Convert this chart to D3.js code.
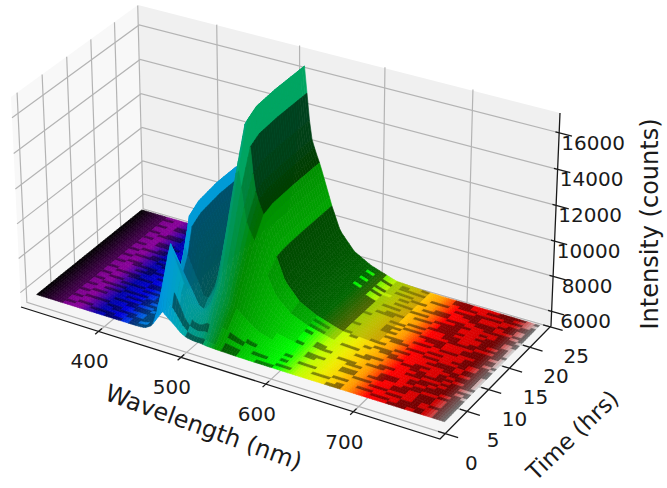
<!DOCTYPE html>
<html>
<head>
<meta charset="utf-8">
<script src="https://cdn.jsdelivr.net/npm/d3@7"></script>
<style>
  html, body { margin: 0; padding: 0; background: #fff; }
  text { font-family: "DejaVu Sans", sans-serif; fill: #1a1a1a; }
</style>
</head>
<body>
<div id="chart"></div>
<script>
// tick labels
const wavelengthTicks = [400, 500, 600, 700];
const timeTicks = [0, 5, 10, 15, 20, 25];
const intensityTicks = [6000, 8000, 10000, 12000, 14000, 16000];

// wavelengths (nm) and times (hrs) the spectra were read at
const wavelengths = [316, 400, 440, 450, 458, 465, 472, 476, 486, 493, 500, 509, 518, 521, 524, 528, 533, 539, 546, 553, 563, 580, 600, 630, 670, 795];
const times = [0, 0.7, 1.4, 2, 4, 5, 6, 7, 8, 10, 12, 16, 22.5];

// the flat detector floor sits this far under the 6000 the spectra start from
const floorOffset = 200;

// one spectrum per time (counts)
const spectrum00 = [6000, 6000, 6000, 6030, 6260, 6780, 7300, 7110, 6720, 6400, 6210, 6140, 6130, 6100, 6080, 6070, 6060, 6050, 6040, 6030, 6020, 6010, 6010, 6000, 6000, 6000];
const spectrum01 = [6000, 6000, 6000, 6050, 6500, 7500, 8500, 8130, 7380, 6770, 6420, 6310, 6350, 6290, 6250, 6200, 6180, 6160, 6130, 6100, 6060, 6030, 6020, 6010, 6000, 6000];
const spectrum02 = [6000, 6000, 6000, 6080, 6840, 8520, 10200, 9580, 8330, 7300, 6750, 6650, 6880, 6770, 6660, 6530, 6470, 6420, 6340, 6260, 6160, 6090, 6050, 6010, 6000, 6000];
const spectrum03 = [6000, 6000, 6000, 6100, 6900, 8800, 10700, 10000, 8780, 7570, 6950, 6940, 7400, 7250, 7070, 6860, 6770, 6680, 6550, 6420, 6260, 6140, 6080, 6020, 6010, 6000];
const spectrum04 = [6000, 6000, 6000, 6060, 6600, 7800, 9000, 8580, 7710, 7040, 6870, 7470, 8860, 8690, 8300, 7850, 7650, 7460, 7180, 6900, 6560, 6310, 6170, 6040, 6010, 6000];
const spectrum05 = [6000, 6000, 6000, 6080, 6760, 8280, 9800, 9270, 8180, 7360, 7300, 8270, 10400, 10130, 9530, 8840, 8540, 8240, 7810, 7380, 6860, 6470, 6260, 6070, 6020, 6000];
const spectrum06 = [6000, 6000, 6000, 6100, 7080, 9240, 11400, 10640, 9080, 7880, 7550, 8970, 11730, 11380, 10590, 9700, 9300, 8910, 8350, 7790, 7120, 6620, 6340, 6080, 6020, 6000];
const spectrum07 = [6000, 6000, 6000, 6110, 7120, 9360, 11600, 10840, 9180, 8000, 7900, 9630, 13140, 12720, 11740, 10620, 10130, 9640, 8940, 8240, 7400, 6770, 6420, 6110, 6030, 6000];
const spectrum08 = [6000, 6000, 6000, 6110, 7160, 9480, 11800, 11000, 9340, 8140, 8150, 10200, 14430, 13970, 12810, 11480, 10900, 10320, 9490, 8660, 7660, 6910, 6500, 6130, 6030, 6000];
const spectrum10 = [6000, 6000, 6000, 6120, 7180, 9540, 11900, 11100, 9450, 8280, 8450, 11090, 16900, 16350, 14450, 12800, 12080, 11360, 10330, 9300, 8060, 7130, 6620, 6160, 6040, 6000];
const spectrum12 = [6000, 6000, 6000, 6120, 7200, 9600, 12000, 11200, 9500, 8330, 8520, 11260, 17250, 16700, 14770, 13060, 12310, 11560, 10490, 9420, 8140, 7180, 6640, 6160, 6040, 6000];
const spectrum16 = [6000, 6000, 6000, 6120, 7200, 9600, 12000, 11210, 9520, 8340, 8520, 11280, 17350, 16800, 14860, 13130, 12370, 11620, 10540, 9460, 8160, 7190, 6650, 6160, 6040, 6000];
const spectrum22 = [6000, 6000, 6000, 6110, 7060, 9180, 11300, 10610, 9130, 8130, 8420, 11230, 17350, 16800, 14860, 13130, 12370, 11620, 10540, 9460, 8160, 7190, 6650, 6160, 6040, 6000];
const spectra = [spectrum00, spectrum01, spectrum02, spectrum03, spectrum04, spectrum05, spectrum06, spectrum07, spectrum08, spectrum10, spectrum12, spectrum16, spectrum22];

// brightness of each spectrum-to-spectrum strip, one digit per wavelength gap (9 = fully lit)
const stripShades = [
  "9999999999999999999999999",
  "9999999988888888999999999",
  "9999999988888888999999999",
  "9999999888888888899999999",
  "9999998555778888888889999",
  "9999999444588888888888999",
  "9999999444588888888888999",
  "9999999444588888888888999",
  "9999999444589976688776799",
  "9999999444599933388333379",
  "9999999444599933388333379",
  "9999999444599933388333379"
];

// noisy floor, rows back (22 hrs) to front (0 hrs), 10 nm per char: # dark cell, + bright cell
const floorCells = [
  "###...##..###.................+...#...##...###.#",
  "####..###...##................+.#.....##..###...#",
  "###.....##.###..............+...###....##...##.#",
  "###..##....###................+.....##...###..##",
  "####.###...#..................+.##.....###...####",
  "###....##.####..............+.....##....##..##.#",
  "###.....###..#................++.#...##..###.#.##",
  "####.##....###................#.....###...##..##",
  "###.###...##................+.+..##....##..###.#",
  "###......#####..............#.+....##...##...##",
  "####....###..#..................##....###..#.###",
  "###..##....###..............#.......##.##...##.#",
  "###..###..##..................#..##....###.###.",
  "####.....####...................##....###...###",
  "###...##...###..............#.......##..##..#.#",
  "###.###...##.#................##..##....##.####",
  "####....###.........................##...###..##",
  "###...##..####..............##....##..###...###",
  "###.###....###....................#....##..###..#",
  "####...###.#................#.....##....#..####",
  "###.....##.###................##......##.##..##",
  "###.##.....###..............##.....##.......##.#",
  "####.###..##........................##..##..###",
  "###....###.###..............###.......##...##.##",
  "###...##...###................##..##....##..#.##",
  "####.....####...................#....##...##.###",
  "###.###...##.#..............##.....##....###.##",
  "###...###....#....................#.##.....##.#",
  "####.....##.##..............##.......##.##..###",
  "###.##...#####..................##.....##..#.##",
  "###...###...##..............#......##...##.##.#",
  "####.....###......................##.....###.###",
  "###.###....###................#......##.##..##.",
  "###....###.#.#................##....##....##.###",
  "####.##...####..............#....##......##.##.#",
  "###.....###..#....................##..##.#.####",
  "###.##....####................##......##..###.##",
  "####...###..##................#...##.##..##..###",
  "###......###.#....................##....##.##.##",
  "###.###...####..............#.......##..##.##.##",
  "####...##...##..........#.....##......##...##.###",
  "###.....###.##........##....#.....##....##.#.###",
  "###.##....####....##.....##.....##...##...##..##",
  "####..###..#.#..##....##....##.....#...##.###.##",
  "###.....##.###....##..##..##......##.....##.#.###"
];

// nipy_spectral stops and the wavelength each one falls on
const colourStops = ["#000000", "#770088", "#880099", "#0000aa", "#0000dd", "#0077dd", "#0099dd", "#00aaaa", "#00aa88", "#009900", "#00bb00", "#00dd00", "#00ff00", "#bbff00", "#eeee00", "#ffcc00", "#ff9900", "#ff0000", "#dd0000", "#cc0000", "#cccccc"];
const colourWavelengths = [316, 345, 368, 393, 415, 442, 470, 495, 516, 535, 555, 580, 605, 628, 650, 668, 686, 708, 738, 772, 795];

const width = 667, height = 488;

const svg = d3.select("#chart").append("svg")
  .attr("width", width)
  .attr("height", height)
  .style("display", "block");

// corners of the axes box on the page
const A = [21, 307], B = [440, 439], C = [551, 326], D = [144, 208], E = [138, 5], F = [11, 97], G = [560, 113];

function makeProjection() {
  const dx1 = B[0] - C[0], dx2 = D[0] - C[0], sx = A[0] - B[0] + C[0] - D[0];
  const dy1 = B[1] - C[1], dy2 = D[1] - C[1], sy = A[1] - B[1] + C[1] - D[1];
  const det = dx1 * dy2 - dx2 * dy1;
  const g = (sx * dy2 - dx2 * sy) / det, h = (dx1 * sy - sx * dy1) / det;
  const a = B[0] - A[0] + g * B[0], b = D[0] - A[0] + h * D[0], c = A[0];
  const d = B[1] - A[1] + g * B[1], e = D[1] - A[1] + h * D[1], f = A[1];
  const r1 = (G[0] * (g + h) - a - b) / (F[0] - G[0]);
  const p = F[0] * r1 - c, q = F[1] * r1 - f, r = r1 - 1;
  return (x, y, z) => {
    const w = g * x + h * y + r * z + 1;
    return [(a * x + b * y + p * z + c) / w, (d * x + e * y + q * z + f) / w];
  };
}
const project = makeProjection();

const x = d3.scaleLinear().domain([303, 796]).range([0, 1]);
const y = d3.scaleLinear().domain([-1.2, 25.2]).range([0, 1]);
const z = d3.scaleLinear().domain([5150, 17150]).range([0, 1]);
const colour = d3.scaleLinear().domain(colourWavelengths).range(colourStops);

const line = d3.line();
const pt = (l, t, v) => project(x(l), y(t), z(v));

// panes
const panes = svg.append("g");
panes.append("path").attr("d", line([A, D, E, F]) + "Z").attr("fill", "#f8f8f8");
panes.append("path").attr("d", line([D, C, G, E]) + "Z").attr("fill", "#f0f0f0");
panes.append("path").attr("d", line([A, B, C, D]) + "Z").attr("fill", "#f5f5f5");

// grid
const grid = svg.append("g").attr("fill", "none").attr("stroke", "#b4b4b4").attr("stroke-width", 1.2);
const [lMin, lMax] = x.domain(), [tMin, tMax] = y.domain(), [zMin, zMax] = z.domain();
wavelengthTicks.forEach(l => grid.append("path").attr("d", line([pt(l, tMin, zMin), pt(l, tMax, zMin), pt(l, tMax, zMax)])));
timeTicks.forEach(t => grid.append("path").attr("d", line([pt(lMax, t, zMin), pt(lMin, t, zMin), pt(lMin, t, zMax)])));
intensityTicks.forEach(v => grid.append("path").attr("d", line([pt(lMin, tMin, v), pt(lMin, tMax, v), pt(lMax, tMax, v)])));

// surface
function surfaceAt(l, t) {
  const i = Math.min(d3.bisectRight(wavelengths, l) - 1, wavelengths.length - 2);
  const j = Math.min(d3.bisectRight(times, t) - 1, times.length - 2);
  const u = (l - wavelengths[i]) / (wavelengths[i + 1] - wavelengths[i]);
  const w = (t - times[j]) / (times[j + 1] - times[j]);
  const top = d3.interpolateNumber(spectra[j + 1][i], spectra[j + 1][i + 1])(u);
  const bottom = d3.interpolateNumber(spectra[j][i], spectra[j][i + 1])(u);
  return bottom + (top - bottom) * w - floorOffset;
}

function cellShade(l, t) {
  const i = Math.min(d3.bisectRight(wavelengths, l) - 1, wavelengths.length - 2);
  const j = Math.min(d3.bisectRight(times, t) - 1, times.length - 2);
  const lit = (+stripShades[j][i] + 1) / 10;
  const row = floorCells.length - 1 - Math.floor(t / 0.5);
  const cell = floorCells[Math.max(row, 0)][Math.max(Math.floor((l - 320) / 10), 0)];
  if (cell === "#") return Math.min(lit, 0.55);
  if (cell === "+") return 0.95;
  return lit;
}

// painter's order: low wavelengths first, back to front in time
const lambdaMesh = d3.range(316, 795, 3);
const timeMesh = d3.range(22, -0.5, -0.5);
const cells = [];
lambdaMesh.forEach(l => timeMesh.forEach(t => cells.push({ l, t })));

svg.append("g").selectAll("path")
  .data(cells)
  .join("path")
  .attr("d", d => {
    const l2 = Math.min(d.l + 3, 795), t2 = d.t + 0.5;
    return line([
      pt(d.l, d.t, surfaceAt(d.l, d.t)),
      pt(l2, d.t, surfaceAt(l2, d.t)),
      pt(l2, t2, surfaceAt(l2, t2)),
      pt(d.l, t2, surfaceAt(d.l, t2))
    ]) + "Z";
  })
  .each(function(d) {
    const base = d3.rgb(colour(d.l + 1.5));
    const s = cellShade(d.l + 1.5, d.t + 0.25);
    const c = d3.rgb(base.r * s, base.g * s, base.b * s);
    d3.select(this).attr("fill", c).attr("stroke", c).attr("stroke-width", 0.6);
  });

// axis lines and ticks
const axes = svg.append("g").attr("fill", "none").attr("stroke", "#1a1a1a").attr("stroke-width", 1.3);
axes.append("path").attr("d", line([A, B, C, G]));
wavelengthTicks.forEach(l => axes.append("path").attr("d", line([pt(l, tMin + 0.7, zMin), pt(l, tMin - 0.7, zMin)])));
timeTicks.forEach(t => axes.append("path").attr("d", line([pt(lMax - 8, t, zMin), pt(lMax + 14, t, zMin)])));
intensityTicks.forEach(v => axes.append("path").attr("d", line([pt(lMax - 4, tMax, v), pt(lMax + 14, tMax, v)])));

// tick labels
const labels = svg.append("g").attr("text-anchor", "middle").attr("font-size", 20);
wavelengthTicks.forEach(l => {
  const p = pt(l, tMin, zMin);
  labels.append("text").attr("x", p[0] - 9).attr("y", p[1] + 37).text(l);
});
timeTicks.forEach(t => {
  const p = pt(lMax, t, zMin);
  labels.append("text").attr("x", p[0] + 26).attr("y", p[1] + 36).text(t);
});
intensityTicks.forEach(v => {
  const p = pt(lMax, tMax, v);
  labels.append("text").attr("x", p[0] + 34).attr("y", p[1] + 17).text(v);
});

// axis titles
const titles = svg.append("g").attr("text-anchor", "middle").attr("font-size", 24);
titles.append("text").attr("transform", "translate(201,435) rotate(20)").text("Wavelength (nm)");
titles.append("text").attr("font-size", 23).attr("transform", "translate(578,441) rotate(-44)").text("Time (hrs)");
titles.append("text").attr("transform", "translate(658,224) rotate(-90)").text("Intensity (counts)");
</script>
</body>
</html>
